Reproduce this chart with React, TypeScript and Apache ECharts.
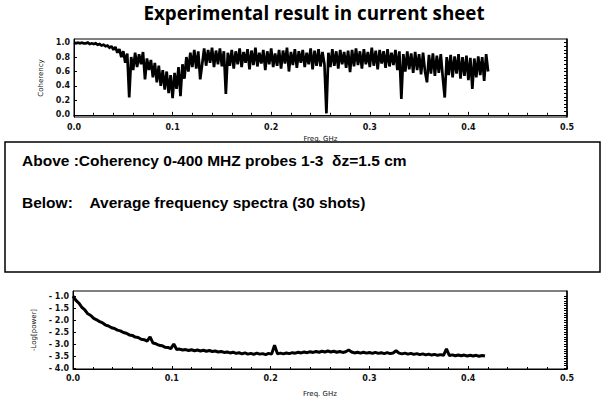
import React, { useEffect, useRef } from "react";
import * as echarts from "echarts";

const titleText = "Experimental result in current sheet";
const noteAbove = "Above :Coherency 0-400 MHZ probes 1-3  δz=1.5 cm";
const noteBelow = "Below:    Average frequency spectra (30 shots)";
const freqName = "Freq. GHz";
const coherencyName = "Coherency";
const powerName = "-Log[power]";

const coherencyTicks = [0, 0.2, 0.4, 0.6, 0.8, 1.0];
const coherencyMinor = [0.05, 0.1, 0.15, 0.25, 0.3, 0.35, 0.45, 0.5, 0.55, 0.65, 0.7, 0.75, 0.85, 0.9, 0.95];
const powerTicks = [-4, -3.5, -3, -2.5, -2, -1.5, -1];
const powerMinor = [-3.9, -3.8, -3.7, -3.6, -3.4, -3.3, -3.2, -3.1, -2.9, -2.8, -2.7, -2.6, -2.4, -2.3, -2.2, -2.1, -1.9, -1.8, -1.7, -1.6, -1.4, -1.3, -1.2, -1.1];

// coherency sampled every 0.002 GHz from 0
const coherencyStep = 0.002;
const coherency = [
  1.0, 0.99, 1.0, 0.99, 1.0, 0.99, 0.99, 1.0, 0.98, 0.99, 0.98, 0.99, 0.97,
  0.98, 0.96, 0.97, 0.95, 0.96, 0.93, 0.95,
  0.90, 0.94, 0.86, 0.91, 0.80, 0.88,
  0.72, 0.85, 0.24, 0.80, 0.62,
  0.86, 0.66, 0.84, 0.70, 0.87, 0.49, 0.78,
  0.62, 0.76, 0.52, 0.72, 0.45, 0.68, 0.40, 0.62, 0.35, 0.60, 0.30, 0.55, 0.23, 0.58,
  0.36, 0.66, 0.26, 0.70, 0.50, 0.80,
  0.60, 0.86, 0.66, 0.90, 0.64, 0.88, 0.49,
  0.70, 0.92, 0.68, 0.90, 0.72, 0.93, 0.66, 0.89, 0.70, 0.92, 0.67, 0.88,
  0.29,
  0.86, 0.68, 0.90, 0.64, 0.88, 0.70, 0.92, 0.66, 0.87, 0.72, 0.91, 0.63, 0.89, 0.69, 0.93, 0.67, 0.86, 0.71, 0.90, 0.62,
  0.88, 0.70, 0.92, 0.66, 0.85, 0.68, 0.90, 0.64, 0.89, 0.71, 0.93, 0.60, 0.87, 0.69, 0.91, 0.65, 0.88, 0.72, 0.90, 0.66,
  0.86, 0.70, 0.92, 0.63, 0.89, 0.68, 0.91, 0.67, 0.87, 0.70,
  0.02,
  0.86, 0.66, 0.91, 0.68, 0.88, 0.64, 0.90, 0.70, 0.87, 0.65, 0.89,
  0.59,
  0.90, 0.67, 0.92, 0.69, 0.88, 0.64, 0.91, 0.70, 0.87, 0.66, 0.93, 0.68, 0.89, 0.63, 0.90, 0.71, 0.88, 0.65, 0.91, 0.67,
  0.86, 0.69, 0.90, 0.62, 0.88,
  0.22,
  0.84, 0.60, 0.88, 0.63, 0.85, 0.58, 0.87, 0.62, 0.84, 0.56, 0.86, 0.60,
  0.45,
  0.83, 0.57, 0.85, 0.54, 0.82, 0.58, 0.84, 0.52,
  0.24,
  0.80, 0.55, 0.83, 0.52, 0.81, 0.57, 0.84, 0.50, 0.80, 0.54, 0.82, 0.48, 0.79,
  0.36,
  0.78, 0.52, 0.81, 0.55, 0.80, 0.47, 0.84, 0.60,
];

// -log(power) sampled every 0.003 GHz from 0
const powerStep = 0.003;
const logPower = [
  -1.0, -1.18, -1.3, -1.47, -1.58, -1.74, -1.81, -1.93, -1.99, -2.07,
  -2.12, -2.21, -2.25, -2.32, -2.35, -2.42, -2.45, -2.52, -2.55, -2.62,
  -2.64, -2.71, -2.73, -2.8, -2.82, -2.88, -2.7, -2.96, -2.99, -3.05,
  -3.07, -3.13, -3.14, -3.19, -3.0, -3.23, -3.21, -3.25, -3.23, -3.27,
  -3.24, -3.28, -3.25, -3.29, -3.26, -3.3, -3.27, -3.31, -3.29, -3.33,
  -3.31, -3.35, -3.33, -3.37, -3.34, -3.39, -3.36, -3.41, -3.37, -3.42,
  -3.39, -3.43, -3.38, -3.42, -3.4, -3.44, -3.39, -3.42, -3.05, -3.41,
  -3.38, -3.41, -3.37, -3.4, -3.36, -3.38, -3.34, -3.37, -3.33, -3.36,
  -3.32, -3.35, -3.31, -3.34, -3.3, -3.33, -3.29, -3.33, -3.3, -3.34,
  -3.31, -3.35, -3.32, -3.25, -3.33, -3.37, -3.34, -3.38, -3.34, -3.38,
  -3.35, -3.39, -3.35, -3.39, -3.36, -3.4, -3.36, -3.4, -3.37, -3.28,
  -3.38, -3.41, -3.38, -3.42, -3.39, -3.43, -3.4, -3.44, -3.41, -3.45,
  -3.42, -3.46, -3.43, -3.47, -3.44, -3.47, -3.2, -3.48, -3.45, -3.49,
  -3.46, -3.49, -3.46, -3.5, -3.47, -3.5, -3.47, -3.51, -3.48, -3.5,
];

const labelStyle = {
  fontSize: 8,
  fontWeight: "bold" as const,
  color: "#111",
  fontFamily: "DejaVu Sans",
};

function xAxisDef(gridIndex: number, labelMargin: number, nameGap: number) {
  return {
    type: "value",
    gridIndex,
    min: 0,
    max: 0.5,
    interval: 0.1,
    axisLine: { show: true, lineStyle: { color: "#000", width: 1 } },
    axisTick: { show: true, inside: true, length: 3, lineStyle: { color: "#000" } },
    minorTick: { show: true, splitNumber: 5, length: 2, lineStyle: { color: "#000" } },
    splitLine: { show: false },
    axisLabel: { ...labelStyle, margin: labelMargin, formatter: (v: number) => v.toFixed(1) },
    name: freqName,
    nameLocation: "middle",
    nameGap,
    nameTextStyle: { fontSize: 7, fontFamily: "DejaVu Sans", color: "#111" },
  };
}

export default function App() {
  const ref = useRef<HTMLDivElement>(null);
  useEffect(() => {
    if (!ref.current) return;
    const chart = echarts.init(ref.current, undefined, { renderer: "svg" });
    const topData = coherency.map((v, i) => [i * coherencyStep, v]);
    const botData = logPower.map((v, i) => [i * powerStep, v]);
    chart.setOption({
      animation: false,
      backgroundColor: "#fff",
      grid: [
        { left: 74, top: 39, width: 493, height: 78, show: true, borderColor: "#000", borderWidth: 1, backgroundColor: "transparent" },
        { left: 73, top: 291, width: 494, height: 78, show: true, borderColor: "#000", borderWidth: 1, backgroundColor: "transparent" },
      ],
      xAxis: [xAxisDef(0, 6, 18), xAxisDef(1, 5, 21)],
      yAxis: [
        {
          type: "value",
          gridIndex: 0,
          min: -0.03,
          max: 1.05,
          axisLine: { show: true, lineStyle: { color: "#000" } },
          axisTick: { show: true, inside: true, length: 3, customValues: coherencyTicks, lineStyle: { color: "#000" } },
          axisLabel: { ...labelStyle, margin: 4, customValues: coherencyTicks, formatter: (v: number) => v.toFixed(1) },
          splitLine: { show: false },
          name: coherencyName,
          nameLocation: "middle",
          nameGap: 22,
          nameTextStyle: { fontSize: 7, fontFamily: "DejaVu Sans", color: "#111" },
        },
        {
          type: "value",
          gridIndex: 0,
          position: "right",
          min: -0.03,
          max: 1.05,
          axisLine: { show: true, lineStyle: { color: "#000", width: 1.5 } },
          axisTick: { show: true, inside: true, length: 3, customValues: coherencyTicks.concat(coherencyMinor), lineStyle: { color: "#000" } },
          axisLabel: { show: false },
          splitLine: { show: false },
        },
        {
          type: "value",
          gridIndex: 1,
          min: -4.04,
          max: -0.79,
          axisLine: { show: true, lineStyle: { color: "#000" } },
          axisTick: { show: true, inside: true, length: 3, customValues: powerTicks, lineStyle: { color: "#000" } },
          axisLabel: { ...labelStyle, margin: 4, customValues: powerTicks, formatter: (v: number) => "- " + Math.abs(v).toFixed(1) },
          splitLine: { show: false },
          name: powerName,
          nameLocation: "middle",
          nameGap: 28,
          nameTextStyle: { fontSize: 7, fontFamily: "DejaVu Sans", color: "#111" },
        },
        {
          type: "value",
          gridIndex: 1,
          position: "right",
          min: -4.04,
          max: -0.79,
          axisLine: { show: true, lineStyle: { color: "#000", width: 1.5 } },
          axisTick: { show: true, inside: true, length: 3, customValues: powerTicks.concat(powerMinor), lineStyle: { color: "#000" } },
          axisLabel: { show: false },
          splitLine: { show: false },
        },
      ],
      series: [
        {
          type: "line",
          xAxisIndex: 0,
          yAxisIndex: 0,
          data: topData,
          showSymbol: false,
          symbol: "none",
          lineStyle: { color: "#000", width: 2.7, join: "miter", miterLimit: 1.5 },
          clip: true,
        },
        {
          type: "line",
          xAxisIndex: 1,
          yAxisIndex: 2,
          data: botData,
          showSymbol: false,
          symbol: "none",
          lineStyle: { color: "#000", width: 3 },
          clip: true,
        },
      ],
      graphic: [
        {
          type: "text",
          x: 314,
          y: 13,
          style: {
            text: titleText,
            fontSize: 18.8,
            fontWeight: "bold",
            fontFamily: "Open Sans",
            fill: "#000",
            textAlign: "center",
            textVerticalAlign: "middle",
          },
        },
        {
          type: "rect",
          shape: { x: 5, y: 142, width: 595, height: 130 },
          style: { fill: "none", stroke: "#000", lineWidth: 1.5 },
        },
        {
          type: "text",
          x: 22,
          y: 160,
          style: {
            text: noteAbove,
            fontSize: 15.5,
            fontWeight: "bold",
            fontFamily: "Liberation Sans",
            fill: "#000",
            textVerticalAlign: "middle",
          },
        },
        {
          type: "text",
          x: 22,
          y: 202,
          style: {
            text: noteBelow,
            fontSize: 15.5,
            fontWeight: "bold",
            fontFamily: "Liberation Sans",
            fill: "#000",
            textVerticalAlign: "middle",
          },
        },
      ],
    });
    return () => chart.dispose();
  }, []);
  return (
    <div
      ref={ref}
      style={{ position: "fixed", left: 0, top: 0, width: 602, height: 398, background: "#fff" }}
    />
  );
}
